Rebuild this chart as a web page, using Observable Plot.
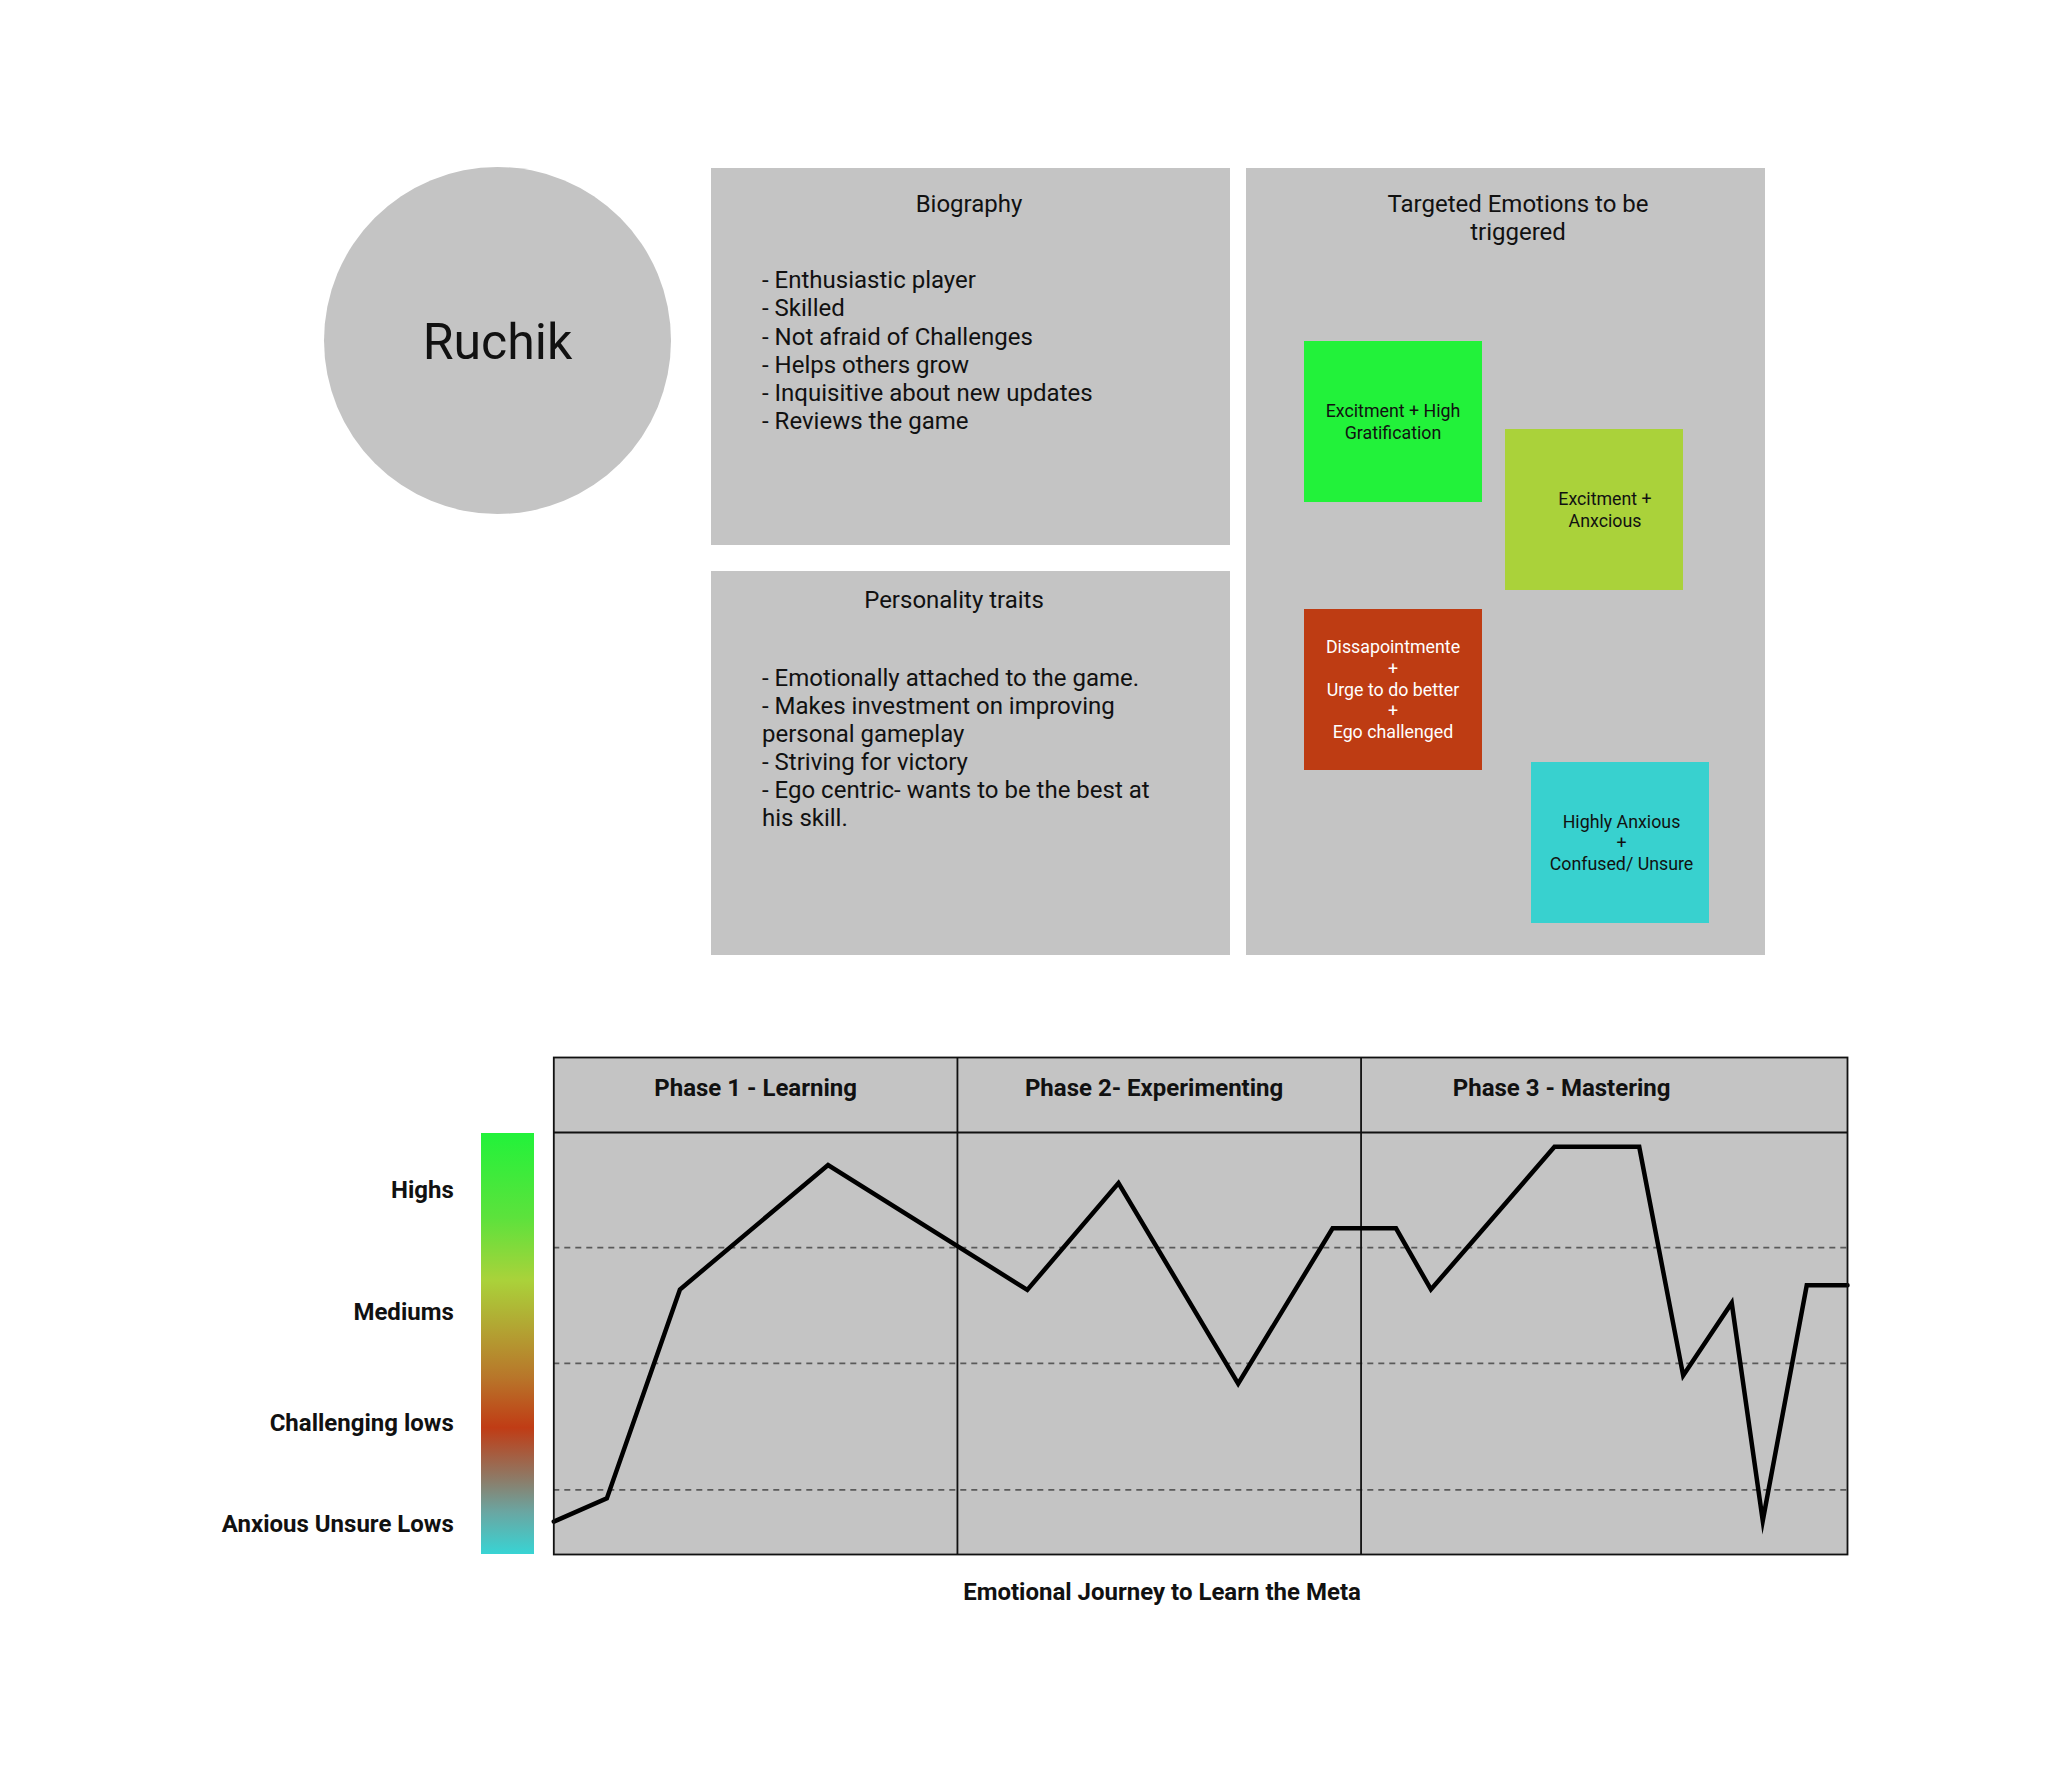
<!DOCTYPE html>
<html>
<head>
<meta charset="utf-8">
<script src="https://cdn.jsdelivr.net/npm/d3@7"></script>
<script src="https://cdn.jsdelivr.net/npm/@observablehq/plot@0.6"></script>
<style>
  html, body { margin: 0; padding: 0; background: #ffffff; }
  body { width: 2071px; height: 1774px; position: relative; overflow: hidden; font-family: Roboto, "Noto Sans", sans-serif; color: #111; }
  .abs { position: absolute; }
  .card { position: absolute; background: #c4c4c4; }
  .t { font-size: 24px; line-height: 28.1px; white-space: nowrap; }
  .emo { position: absolute; display: flex; flex-direction: column; justify-content: center; align-items: center;
         font-size: 17.8px; line-height: 21.3px; text-align: center; white-space: nowrap; box-sizing: border-box; }
</style>
</head>
<body>
<div id="root"></div>
<script>
// ---------------- data ----------------
const personaName = "Ruchik";
const bioTitle = "Biography";
const bioItems = [
  "- Enthusiastic player",
  "- Skilled",
  "- Not afraid of Challenges",
  "- Helps others grow",
  "- Inquisitive about new updates",
  "- Reviews the game"
];
const traitsTitle = "Personality traits";
const traitsLines = [
  "- Emotionally attached to the game.",
  "- Makes investment on improving",
  "personal gameplay",
  "- Striving for victory",
  "- Ego centric- wants to be the best at",
  "his skill."
];
const emotionsTitle = ["Targeted Emotions to be", "triggered"];
const emotionCards = [
  ["Excitment + High", "Gratification"],
  ["Excitment +", "Anxcious"],
  ["Dissapointmente", "+", "Urge to do better", "+", "Ego challenged"],
  ["Highly Anxious", "+", "Confused/ Unsure"]
];

const phaseNames = ["Phase 1 - Learning", "Phase 2- Experimenting", "Phase 3 - Mastering"];
const phaseLabelX = [15.6, 46.4, 77.9];
const phaseBounds = [31.2, 62.4];
const levelNames = ["Highs", "Mediums", "Challenging lows", "Anxious Unsure Lows"];
const levelLabelY = [86.4, 57.5, 31.0, 7.1];
const levelLines = [72.7, 45.3, 15.3];
const journeyX = [0, 4.1, 9.75, 21.2, 36.6, 43.65, 52.9, 60.2, 65.1, 67.8, 77.35, 83.9, 87.3, 91.05, 93.45, 96.85, 100];
const journeyY = [7.8, 13.3, 62.8, 92.3, 62.7, 88.0, 40.5, 77.3, 77.3, 62.8, 96.6, 96.6, 42.4, 59.6, 8.0, 63.8, 63.8];
const caption = "Emotional Journey to Learn the Meta";

// ---------------- layout / styles ----------------
const GREY = "#c4c4c4";
const emotionStyles = [
  {left: 1304, top: 341, bg: "#22f23a", color: "#111", pad: "0 0 0 0"},
  {left: 1505, top: 429, bg: "#aad23a", color: "#111", pad: "0 0 0 22px"},
  {left: 1304, top: 609, bg: "#be3c13", color: "#ffffff", pad: "0 0 0 0"},
  {left: 1531, top: 762, bg: "#38d1cf", color: "#111", pad: "0 0 0 3px"}
];

const root = document.getElementById("root");
function add(cls, css, html) {
  const d = document.createElement("div");
  if (cls) d.className = cls;
  Object.assign(d.style, css);
  if (html != null) d.innerHTML = html;
  root.appendChild(d);
  return d;
}
const esc = s => s.replace(/&/g, "&amp;").replace(/</g, "&lt;");

// Persona circle
add("abs", {left: "324px", top: "167.3px", width: "347px", height: "347px", borderRadius: "50%", background: GREY});
add("abs", {left: "324px", top: "311.7px", width: "347px", textAlign: "center", fontSize: "50px", lineHeight: "60px", color: "#111"}, esc(personaName));

// Biography card
add("card", {left: "710.5px", top: "167.5px", width: "519.5px", height: "377px"});
add("abs t", {left: "710.5px", top: "190px", width: "517px", textAlign: "center"}, esc(bioTitle));
add("abs t", {left: "762px", top: "266.4px"}, bioItems.map(esc).join("<br>"));

// Personality card
add("card", {left: "710.5px", top: "571px", width: "519.5px", height: "384px"});
add("abs t", {left: "710px", top: "586px", width: "488px", textAlign: "center"}, esc(traitsTitle));
add("abs t", {left: "762px", top: "663.7px"}, traitsLines.map(esc).join("<br>"));

// Targeted emotions card
add("card", {left: "1245.5px", top: "167.5px", width: "519px", height: "787.5px"});
add("abs t", {left: "1245.5px", top: "190px", width: "545px", textAlign: "center"}, emotionsTitle.map(esc).join("<br>"));
emotionCards.forEach((lines, i) => {
  const s = emotionStyles[i];
  add("emo", {left: s.left + "px", top: s.top + "px", width: "178px", height: "161px", background: s.bg, color: s.color, padding: s.pad},
      lines.map(esc).join("<br>"));
});

// Gradient level bar
add("abs", {left: "480.5px", top: "1133px", width: "53.5px", height: "421px",
  background: "linear-gradient(to bottom, #22f23a 0%, #5ce23c 20%, #aad23a 35%, #b3a232 47%, #b8762a 58%, #c03c15 70%, #8e7a66 82%, #6aa6a2 90%, #38d4d4 100%)"});

// ---------------- chart ----------------
const Y_TOP = 117.77;
const journey = journeyX.map((x, i) => ({x, y: journeyY[i]}));
const phases = phaseNames.map((name, i) => ({name, x: phaseLabelX[i]}));
const levelNameOf = new Map(levelLabelY.map((v, i) => [v, levelNames[i]]));

const chart = Plot.plot({
  width: 2071,
  height: 524,
  marginLeft: 553.3,
  marginRight: 224,
  marginTop: 17,
  marginBottom: 10,
  x: {domain: [0, 100], axis: null, label: null},
  y: {domain: [0, Y_TOP], label: null},
  style: {fontFamily: "Roboto, sans-serif", fontSize: "24px", color: "#111", background: "transparent", overflow: "visible"},
  marks: [
    Plot.frame({fill: GREY, stroke: "none"}),
    Plot.ruleY(levelLines, {stroke: "#5a5a5a", strokeWidth: 1.8, strokeDasharray: "6,5"}),
    Plot.ruleY([100], {stroke: "#111", strokeWidth: 1.8}),
    Plot.ruleX(phaseBounds, {stroke: "#111", strokeWidth: 1.8}),
    Plot.line(journey, {x: "x", y: "y", stroke: "#000", strokeWidth: 4.5, strokeLinejoin: "miter", strokeMiterlimit: 10}),
    Plot.text(phases, {x: "x", y: () => (100 + Y_TOP) / 2, text: "name", dy: -7, fontWeight: "bold", fontSize: 24, fill: "#111", textAnchor: "middle", lineAnchor: "middle"}),
    Plot.axisY(levelLabelY, {tickFormat: d => levelNameOf.get(d), tickSize: 0, tickPadding: 100, fontWeight: "bold", fontSize: 24, fill: "#111", label: null}),
    Plot.frame({stroke: "#111", strokeWidth: 1.8})
  ]
});
const holder = add("abs", {left: "0px", top: "1040px", width: "2071px", height: "524px"});
holder.appendChild(chart);

// Caption
add("abs t", {left: "862px", top: "1578px", width: "600px", textAlign: "center", fontWeight: "bold"}, esc(caption));
</script>
</body>
</html>
